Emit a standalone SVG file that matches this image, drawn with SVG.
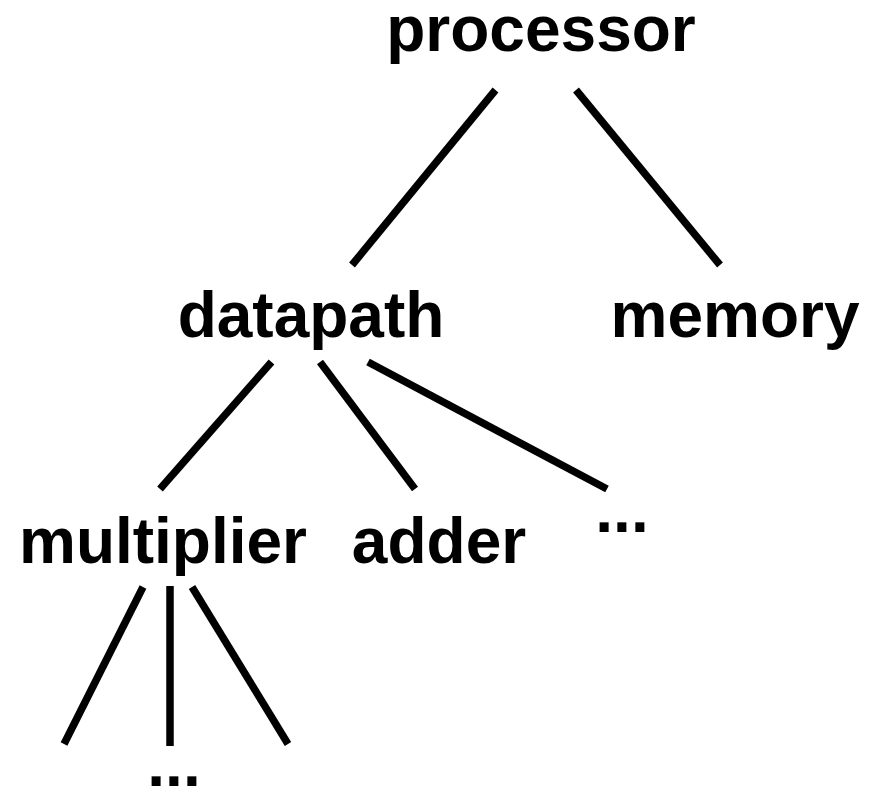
<svg xmlns="http://www.w3.org/2000/svg" width="878" height="788" viewBox="0 0 878 788">
<style>
  text { font-family: "Liberation Sans", Arial, sans-serif; font-weight: bold; font-size: 64px; fill: #000; text-anchor: middle; }
  .edge { stroke: #000; stroke-width: 7.5; stroke-linecap: butt; fill: none; }
</style>
<rect width="878" height="788" fill="#fff"/>
<g id="connectors">
  <line class="edge" x1="495.5" y1="90" x2="352" y2="265"/>
  <line class="edge" x1="576" y1="90" x2="720" y2="265"/>
  <line class="edge" x1="271.5" y1="362" x2="160" y2="489"/>
  <line class="edge" x1="320" y1="362" x2="415" y2="489"/>
  <line class="edge" x1="368" y1="362" x2="607" y2="489"/>
  <line class="edge" x1="143" y1="587" x2="64" y2="744"/>
  <line class="edge" x1="170" y1="586" x2="170" y2="746"/>
  <line class="edge" x1="192" y1="587" x2="288" y2="744"/>
</g>
<g id="processor"><text x="541" y="51">processor</text></g>
<g id="datapath"><text x="311" y="337">datapath</text></g>
<g id="memory"><text x="735" y="337">memory</text></g>
<g id="multiplier"><text x="163" y="563">multiplier</text></g>
<g id="adder"><text x="439" y="563">adder</text></g>
<g id="more1"><text x="622" y="532">...</text></g>
<g id="more2"><text x="174" y="786">...</text></g>
</svg>
